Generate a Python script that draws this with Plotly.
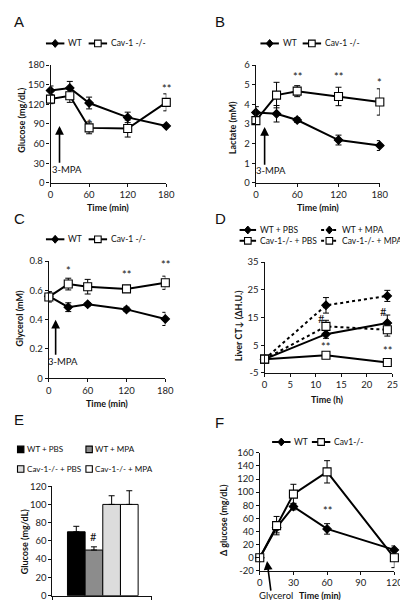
import plotly.graph_objects as go

W, H = 408, 600
FONT = "Lato"

# ---------------- data ----------------
a_time = [0, 30, 60, 120, 180]
a_wt = [141, 145, 122, 100, 87]
a_wt_sem = [7, 10, 9, 8, 2]
a_ko = [128, 133, 84, 83, 123]
a_ko_sem = [7, 10, 9, 13, 13]

b_time = [0, 30, 60, 120, 180]
b_wt = [3.58, 3.52, 3.2, 2.18, 1.9]
b_wt_sem = [0.3, 0.42, 0.12, 0.25, 0.25]
b_ko = [3.17, 4.47, 4.67, 4.4, 4.12]
b_ko_sem = [0.2, 0.65, 0.28, 0.47, 0.67]

c_time = [0, 30, 60, 120, 180]
c_wt = [0.56, 0.485, 0.505, 0.47, 0.405]
c_wt_sem = [0.03, 0.03, 0.012, 0.015, 0.045]
c_ko = [0.555, 0.643, 0.625, 0.61, 0.652]
c_ko_sem = [0.035, 0.04, 0.05, 0.02, 0.045]

d_time = [0, 12, 24]
d_wt_pbs = [0, 9.0, 13.0]
d_wt_pbs_sem = [0, 1.5, 2.9]
d_wt_mpa = [0, 19.4, 22.8]
d_wt_mpa_sem = [0, 2.8, 2.0]
d_ko_pbs = [0, 1.4, -1.2]
d_ko_pbs_sem = [0, 0.8, 1.0]
d_ko_mpa = [0, 11.8, 10.6]
d_ko_mpa_sem = [0, 2.2, 2.3]

e_groups = ["WT + PBS", "WT + MPA", "Cav-1-/- + PBS", "Cav-1-/- + MPA"]
e_glucose = [70, 50, 100, 100]
e_glucose_sem = [6, 3.5, 9.5, 15]

f_time = [0, 15, 30, 60, 120]
f_wt = [0, 46, 78, 44, 12]
f_wt_sem = [0, 8, 5, 8, 6]
f_ko = [0, 49, 97, 131, 0]
f_ko_sem = [0, 14, 15, 17, 15]

# tick values / labels
min_ticks = [0, 60, 120, 180]
a_yticks = [0, 30, 60, 90, 120, 150, 180]
b_yticks = [0, 1, 2, 3, 4, 5, 6]
c_yticks = [0, 0.2, 0.4, 0.6, 0.8]
c_ylabels = ["0", "0.2", "0.4", "0.6", "0.8"]
d_xticks = [0, 5, 10, 15, 20, 25]
d_yticks = [-5, 5, 15, 25, 35]
d_ylabels = ["-5", "5", "15", "25", "35"]
e_yticks = [0, 20, 40, 60, 80, 100, 120]
f_xticks = [0, 30, 60, 90, 120]
f_yticks = [-20, 0, 20, 40, 60, 80, 100, 120, 140, 160]
f_ylabels = ["-20", "0", "20", "40", "60", "80", "100", "120", "140", "160"]


def X(p):
    return p / W


def Y(p):
    return 1 - p / H


fig = go.Figure()

TICKFONT = dict(family=FONT, size=9.5, color="#222")


def ax_style(**kw):
    d = dict(showline=True, linecolor="#111", linewidth=1.2, ticks="outside",
             ticklen=3, tickwidth=1, tickcolor="#111", showgrid=False,
             zeroline=False, tickfont=TICKFONT, fixedrange=True)
    d.update(kw)
    return d


# panel boxes in pixels: x_left, x_right, y_top, y_bottom
boxes = {
    1: (40.7, 160, 52, 172),
    2: (252.3, 380, 52, 172),
    3: (39, 159, 251.7, 371),
    4: (261.3, 393, 252.7, 365.7),
    5: (42.7, 145, 481, 592.5),
    6: (256.3, 395, 447, 567.3),
}
ranges = {
    1: ([0, 180], [0, 180]),
    2: ([0, 180], [0, 6]),
    3: ([0, 180], [0, 0.8]),
    4: ([0, 25], [-5, 35]),
    5: ([-1.35, 4.27], [0, 120]),
    6: ([0, 120], [-20, 160]),
}
xt = {1: (min_ticks, None), 2: (min_ticks, None), 3: (min_ticks, None),
      4: (d_xticks, None), 5: ([-1.35, 4.27], ["", ""]), 6: (f_xticks, None)}
yt = {1: (a_yticks, None), 2: (b_yticks, None), 3: (c_yticks, c_ylabels),
      4: (d_yticks, d_ylabels), 5: (e_yticks, None), 6: (f_yticks, f_ylabels)}

layout_axes = {}
for i, (xl, xr, yt_, yb) in boxes.items():
    xs = "" if i == 1 else str(i)
    xr_, yr_ = ranges[i]
    xkw = dict(domain=[X(xl), X(xr)], range=xr_, anchor="y" + xs,
               tickvals=xt[i][0])
    if xt[i][1] is not None:
        xkw["ticktext"] = xt[i][1]
    ykw = dict(domain=[Y(yb), Y(yt_)], range=yr_, anchor="x" + xs,
               tickvals=yt[i][0])
    if yt[i][1] is not None:
        ykw["ticktext"] = yt[i][1]
    layout_axes["xaxis" + xs] = ax_style(**xkw)
    layout_axes["yaxis" + xs] = ax_style(**ykw)


def series(x, y, err, i, symbol, name, dash="solid"):
    xs = "" if i == 1 else str(i)
    fill = "black" if symbol == "diamond" else "white"
    size = 6.5 if symbol == "diamond" else 8
    fig.add_trace(go.Scatter(
        x=x, y=y, name=name, mode="lines+markers", xaxis="x" + xs, yaxis="y" + xs,
        line=dict(color="black", width=2, dash=dash),
        marker=dict(symbol=symbol, size=size, color=fill,
                    line=dict(color="black", width=1.1)),
        error_y=dict(type="data", array=err, color="black", thickness=1, width=3),
        cliponaxis=False, showlegend=False))


series(a_time, a_wt, a_wt_sem, 1, "diamond", "WT")
series(a_time, a_ko, a_ko_sem, 1, "square", "Cav-1 -/-")
series(b_time, b_wt, b_wt_sem, 2, "diamond", "WT")
series(b_time, b_ko, b_ko_sem, 2, "square", "Cav-1 -/-")
series(c_time, c_wt, c_wt_sem, 3, "diamond", "WT")
series(c_time, c_ko, c_ko_sem, 3, "square", "Cav-1 -/-")
series(d_time, d_wt_pbs, d_wt_pbs_sem, 4, "diamond", "WT + PBS")
series(d_time, d_wt_mpa, d_wt_mpa_sem, 4, "diamond", "WT + MPA", dash="dot")
series(d_time, d_ko_pbs, d_ko_pbs_sem, 4, "square", "Cav-1-/- + PBS")
series(d_time, d_ko_mpa, d_ko_mpa_sem, 4, "square", "Cav-1-/- + MPA", dash="dot")
series(f_time, f_wt, f_wt_sem, 6, "diamond", "WT")
series(f_time, f_ko, f_ko_sem, 6, "square", "Cav1-/-")

bar_colors = ["#000000", "#8c8c8c", "#dcdcdc", "#ffffff"]
for i, (g, v, e) in enumerate(zip(e_groups, e_glucose, e_glucose_sem)):
    fig.add_trace(go.Bar(
        x=[i], y=[v], name=g, width=1, xaxis="x5", yaxis="y5",
        marker=dict(color=bar_colors[i], line=dict(color="black", width=1)),
        error_y=dict(type="data", array=[e], arrayminus=[0], symmetric=False,
                     color="black", thickness=1, width=3),
        showlegend=False))

shapes = []
annotations = []


def text(x, y, s, size=9, xref="paper", yref="paper", xanchor="center",
         yanchor="middle", angle=0, yshift=0, family=FONT):
    annotations.append(dict(x=x, y=y, xref=xref, yref=yref, text=s,
                            showarrow=False, xanchor=xanchor, yanchor=yanchor,
                            textangle=angle, yshift=yshift,
                            font=dict(family=family, size=size, color="#111")))


def marker_shape(cx, cy, symbol, fill="black", r=4):
    if symbol == "diamond":
        path = (f"M {X(cx - r)},{Y(cy)} L {X(cx)},{Y(cy - r - 0.5)} "
                f"L {X(cx + r)},{Y(cy)} L {X(cx)},{Y(cy + r + 0.5)} Z")
        shapes.append(dict(type="path", xref="paper", yref="paper", path=path,
                           fillcolor="black", line=dict(color="black", width=1)))
    else:
        shapes.append(dict(type="rect", xref="paper", yref="paper",
                           x0=X(cx - r), x1=X(cx + r), y0=Y(cy + r), y1=Y(cy - r),
                           fillcolor=fill, line=dict(color="black", width=1.1)))


LEG = 8.5


def line_key(x0, y, symbol, label, dash="solid", length=19):
    shapes.append(dict(type="line", xref="paper", yref="paper",
                       x0=X(x0), x1=X(x0 + length), y0=Y(y), y1=Y(y),
                       line=dict(color="black", width=2, dash=dash)))
    marker_shape(x0 + length / 2, y, symbol, "black" if symbol == "diamond" else "white",
                 r=3.5 if symbol == "diamond" else 3.4)
    text(X(x0 + length + 2), Y(y), label, size=LEG, xanchor="left")


# legends
line_key(36, 30, "diamond", "WT")
line_key(80, 30, "square", "Cav-1 -/-")
line_key(257, 30, "diamond", "WT")
line_key(300.5, 30, "square", "Cav-1 -/-")
line_key(36, 229.5, "diamond", "WT")
line_key(80, 229.5, "square", "Cav-1 -/-")
line_key(235.5, 220, "diamond", "WT + PBS", length=17)
line_key(319.5, 220, "diamond", "WT + MPA", dash="dot", length=17)
line_key(235.5, 231, "square", "Cav-1-/- + PBS", length=17)
line_key(319.5, 231, "square", "Cav-1-/- + MPA", dash="dot", length=17)
line_key(269, 436, "diamond", "WT")
line_key(310, 436, "square", "Cav1-/-")

for (cx, cy), col, lab in zip([(10, 443.5), (80.5, 443.5), (10, 463.5), (80.5, 463.5)],
                              bar_colors, e_groups):
    marker_shape(cx, cy, "square", fill=col, r=3.3)
    text(X(cx + 4), Y(cy), lab, size=8.1, xanchor="left")

# panel letters
for (px, py), L in zip([(1, 8), (208, 8), (1, 208), (208, 208), (1, 413), (208, 416)],
                       "ABCDEF"):
    text(X(px), Y(py), L, size=15, xanchor="left", family="Liberation Sans")

# axis titles
for (px, py), s in zip([(100, 197.5), (316, 197.5), (99, 396.5), (326, 392.5), (318, 592)],
                       ["Time (min)", "Time (min)", "Time (min)", "Time (h)", "Time (min)"]):
    text(X(px), Y(py), f"<b>{s}</b>", size=9)
for (px, py), s in zip([(10, 108), (229, 116), (8.5, 310), (234, 318), (13.5, 538), (219, 516)],
                       ["Glucose (mg/dL)", "Lactate (mM)", "Glycerol (mM)",
                        "Liver CT↓ (ΔH.U.)", "Glucose (mg/dL)", "Δ glucose (mg/dL)"]):
    text(X(px), Y(py), f"<b>{s}</b>", size=9, angle=-90)

# significance marks (data coordinates)
stars = [
    ("x", "y", 60, 96, "*"), ("x", "y", 180, 148, "**"),
    ("x2", "y2", 60, 5.55, "**"), ("x2", "y2", 120, 5.55, "**"), ("x2", "y2", 180, 5.25, "*"),
    ("x3", "y3", 30, 0.755, "*"), ("x3", "y3", 120, 0.728, "**"), ("x3", "y3", 180, 0.795, "**"),
    ("x4", "y4", 11.2, 14.7, "#"), ("x4", "y4", 23.3, 17.0, "#"),
    ("x4", "y4", 12, 5.6, "**"), ("x4", "y4", 24, 4.2, "**"),
    ("x5", "y5", 1, 64.5, "#"), ("x5", "y5", 2, 130, "*"), ("x5", "y5", 3, 131, "*"),
    ("x6", "y6", 60, 77, "**"),
]
for xr, yr, x, y, s in stars:
    text(x, y, s, size=11, xref=xr, yref=yr, yshift=-3 if "*" in s else 0)

# 3-MPA arrows
for xr, yr, x, y0, y1, tx, ty in [("x", "y", 14, 28.5, 87, 26, 21),
                                   ("x2", "y2", 12.7, 0.85, 2.85, 21.4, 0.65),
                                   ("x3", "y3", 10.5, 0.15, 0.40, 22.5, 0.114)]:
    annotations.append(dict(x=x, y=y1, ax=x, ay=y0, xref=xr, yref=yr, axref=xr, ayref=yr,
                            showarrow=True, arrowhead=2, arrowsize=1.1, arrowwidth=1.6,
                            arrowcolor="black", text=""))
    text(tx, ty, "3-MPA", size=9.5, xref=xr, yref=yr)

annotations.append(dict(x=6.5, y=-5, xref="x6", yref="y6", ax=4, ay=31,
                        showarrow=True, arrowhead=2, arrowsize=1.1, arrowwidth=1.6,
                        arrowcolor="black", text=""))
text(X(273), Y(592), "Glycerol", size=9.5)

fig.update_layout(
    width=W, height=H, margin=dict(l=0, r=0, t=0, b=0),
    paper_bgcolor="white", plot_bgcolor="white",
    barmode="overlay", showlegend=False,
    shapes=shapes, annotations=annotations,
    font=dict(family=FONT, size=9, color="#111"),
    **layout_axes,
)

fig.write_html("out.html")
